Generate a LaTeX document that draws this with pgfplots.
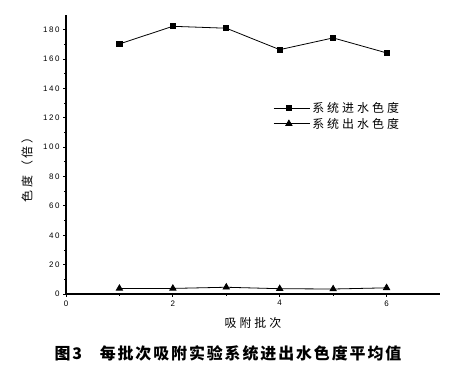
\documentclass[border=0pt]{standalone}
\usepackage{pgfplots}
\pgfplotsset{compat=1.18}
\usepackage{fontspec}
\setmainfont{Liberation Sans}
\newfontfamily\ticksf{Liberation Sans}[LetterSpace=20]
\newfontfamily\cjk{Noto Sans CJK SC}
\newfontfamily\cjkwide{Noto Sans CJK SC}[LetterSpace=25]
\newfontfamily\cjkcap{Noto Sans CJK SC}[LetterSpace=12]
\begin{document}
\begin{tikzpicture}
\begin{axis}[
  scale only axis,
  width=374bp, height=279bp,
  xmin=0, xmax=7, ymin=0, ymax=190,
  axis lines=left,
  axis line style={-, line width=1.2pt},
  clip=false,
  xtick={0,2,4,6},
  ytick={0,20,...,180},
  minor x tick num=1,
  minor y tick num=1,
  tick align=outside,
  major tick length=3pt,
  minor tick length=2pt,
  tick style={black, line width=0.8pt},
  ticklabel style={font=\ticksf\fontsize{8}{9}\selectfont},
  /pgf/number format/assume math mode=true,
  xlabel={\cjkwide\fontsize{12}{13}\selectfont 吸附批次},
  xlabel style={at={(axis cs:3.5,0)}, anchor=center, yshift=-29bp},
  ylabel={\cjkwide\fontsize{12}{13}\selectfont 色度（倍）},
  ylabel style={at={(axis cs:0,86.5)}, anchor=center, rotate=0, yshift=39bp},
  legend style={at={(axis cs:3.88,132)}, anchor=north west, draw=none, fill=none,
    inner sep=0pt, font=\cjkwide\fontsize{12}{14}\selectfont, row sep=0pt},
  legend cell align=left,
  legend image code/.code={
    \path (0bp,0bp) -- (36bp,0bp);
    \draw[#1, line width=0.8pt] (0bp,0bp) -- (30bp,0bp);
    \draw[#1, only marks] plot coordinates {(15bp,0bp)};
  },
]
\addplot[black, line width=0.8pt, mark=square*, mark size=2.6pt, mark options={solid}]
  coordinates {(1,170.3) (2,182.3) (3,181) (4,166.4) (5,174.4) (6,164.2)};
\addlegendentry{系统进水色度}
\addplot[black, line width=0.8pt, mark=triangle*, mark size=3.6pt, mark options={solid}]
  coordinates {(1,3.8) (2,3.8) (3,4.6) (4,3.6) (5,3.4) (6,4.2)};
\addlegendentry{系统出水色度}
\end{axis}
\node[font=\cjkcap\bfseries\fontsize{16}{18}\selectfont] at (162bp,-59bp) {图3\hspace{1.1em}每批次吸附实验系统进出水色度平均值};
\path[use as bounding box] (-66bp,-79bp) rectangle (385bp,294bp);
\end{tikzpicture}
\end{document}
